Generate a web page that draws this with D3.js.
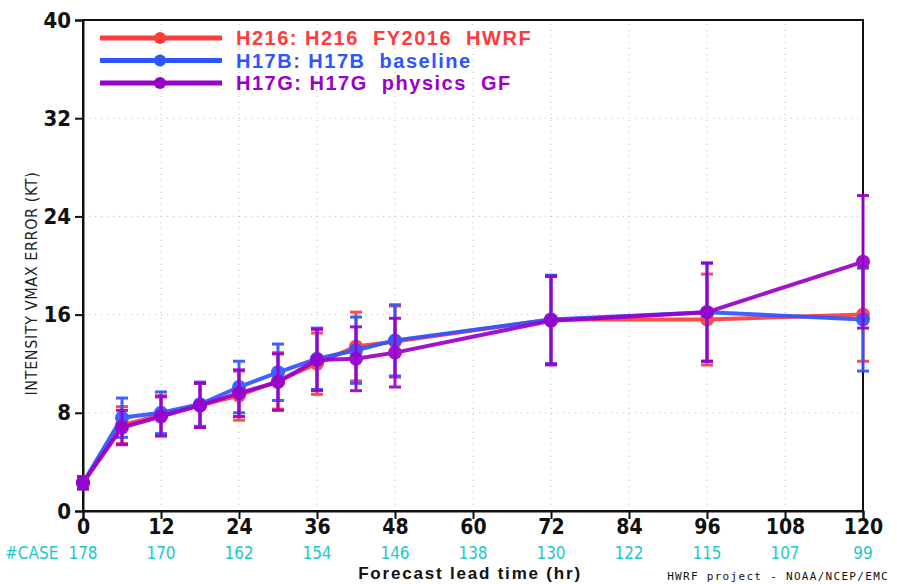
<!DOCTYPE html>
<html>
<head>
<meta charset="utf-8">
<script src="https://cdn.jsdelivr.net/npm/d3@7"></script>
<style>
  body { margin: 0; background: #fff; }
  text { font-family: "Liberation Sans Narrow", "DejaVu Sans Condensed", "Liberation Sans", sans-serif; }
</style>
</head>
<body>
<svg id="drawing_region"></svg>
<script>
// forecast hours and values
const hours = [0, 6, 12, 18, 24, 30, 36, 42, 48, 72, 96, 120];

const h216Mean = [2.3, 7.0, 7.8, 8.6, 9.4, 10.6, 12.0, 13.4, 13.8, 15.6, 15.6, 16.0];
const h216Err  = [0.5, 1.5, 1.6, 1.8, 2.0, 2.3, 2.5, 2.8, 2.9, 3.6, 3.7, 3.8];

const h17bMean = [2.3, 7.6, 8.0, 8.7, 10.1, 11.3, 12.4, 13.1, 13.9, 15.6, 16.2, 15.6];
const h17bErr  = [0.5, 1.6, 1.7, 1.8, 2.1, 2.3, 2.5, 2.7, 2.9, 3.6, 4.0, 4.2];

const h17gMean = [2.3, 6.8, 7.7, 8.6, 9.6, 10.5, 12.3, 12.4, 12.9, 15.5, 16.2, 20.3];
const h17gErr  = [0.5, 1.4, 1.6, 1.8, 1.9, 2.3, 2.5, 2.6, 2.8, 3.6, 4.0, 5.4];

const seriesNames = ["H216: H216  FY2016  HWRF", "H17B: H17B  baseline", "H17G: H17G  physics  GF"];
const seriesColors = ["#ff3b3b", "#2f55ff", "#9a00cc"];

const xTicks = [0, 12, 24, 36, 48, 60, 72, 84, 96, 108, 120];
const caseCounts = [178, 170, 162, 154, 146, 138, 130, 122, 115, 107, 99];
const yTicks = [0, 8, 16, 24, 32, 40];

const width = 897, height = 584;
const margin = {top: 20, right: 34, bottom: 73, left: 83};

const svg = d3.select('#drawing_region')
    .attr('width', width)
    .attr('height', height);

const x = d3.scaleLinear().domain([0, 120]).range([margin.left, width - margin.right]);
const y = d3.scaleLinear().domain([0, 40]).range([height - margin.bottom, margin.top]);

// dotted grid
svg.append('g')
    .selectAll('line')
    .data(xTicks.slice(1, -1))
    .enter().append('line')
    .attr('x1', d => x(d)).attr('x2', d => x(d))
    .attr('y1', y(0)).attr('y2', y(40))
    .attr('stroke', '#bbb').attr('stroke-width', 1).attr('stroke-dasharray', '1,5');
svg.append('g')
    .selectAll('line')
    .data(yTicks.slice(1, -1))
    .enter().append('line')
    .attr('x1', x(0)).attr('x2', x(120))
    .attr('y1', d => y(d)).attr('y2', d => y(d))
    .attr('stroke', '#bbb').attr('stroke-width', 1).attr('stroke-dasharray', '1,5');

// axes
const yAxis = svg.append('g')
    .attr('transform', `translate(${x(0)},0)`)
    .call(d3.axisLeft(y).tickValues(yTicks).tickSize(8).tickPadding(4));
const xAxis = svg.append('g')
    .attr('transform', `translate(0,${y(0)})`)
    .call(d3.axisBottom(x).tickValues(xTicks).tickSize(8).tickPadding(0));
[yAxis, xAxis].forEach(a => {
    a.select('.domain').attr('stroke', '#111').attr('stroke-width', 2);
    a.selectAll('.tick line').attr('stroke', '#111').attr('stroke-width', 2);
    a.selectAll('.tick text')
        .attr('fill', '#111')
        .style('font-size', '22px')
        .style('font-weight', 'bold');
});
xAxis.selectAll('.tick text').style('font-size', '21px');

// frame
svg.append('rect')
    .attr('x', x(0)).attr('y', y(40))
    .attr('width', x(120) - x(0)).attr('height', y(0) - y(40))
    .attr('fill', 'none').attr('stroke', '#111').attr('stroke-width', 2);

// series
const series = [
    {mean: h216Mean, err: h216Err},
    {mean: h17bMean, err: h17bErr},
    {mean: h17gMean, err: h17gErr}
];

const line = d3.line()
    .x(d => x(d.h))
    .y(d => y(d.v));

series.forEach((s, i) => {
    const pts = hours.map((h, j) => ({h: h, v: s.mean[j], e: s.err[j]}));
    const col = seriesColors[i];
    const g = svg.append('g').attr('opacity', 0.92);

    g.append('path')
        .datum(pts)
        .attr('d', line)
        .attr('fill', 'none')
        .attr('stroke', col)
        .attr('stroke-width', 4);

    const eb = g.selectAll('.eb').data(pts).enter().append('g');
    eb.append('line')
        .attr('x1', d => x(d.h)).attr('x2', d => x(d.h))
        .attr('y1', d => y(d.v - d.e)).attr('y2', d => y(d.v + d.e))
        .attr('stroke', col).attr('stroke-width', 3);
    eb.append('line')
        .attr('x1', d => x(d.h) - 6).attr('x2', d => x(d.h) + 6)
        .attr('y1', d => y(d.v + d.e)).attr('y2', d => y(d.v + d.e))
        .attr('stroke', col).attr('stroke-width', 3);
    eb.append('line')
        .attr('x1', d => x(d.h) - 6).attr('x2', d => x(d.h) + 6)
        .attr('y1', d => y(d.v - d.e)).attr('y2', d => y(d.v - d.e))
        .attr('stroke', col).attr('stroke-width', 3);

    g.selectAll('circle')
        .data(pts)
        .enter().append('circle')
        .attr('cx', d => x(d.h))
        .attr('cy', d => y(d.v))
        .attr('r', 7)
        .attr('fill', col);
});

// legend
const legend = svg.append('g');
seriesNames.forEach((name, i) => {
    const ly = 38 + i * 22.5;
    legend.append('line')
        .attr('x1', 100).attr('x2', 222)
        .attr('y1', ly).attr('y2', ly)
        .attr('stroke', seriesColors[i]).attr('stroke-width', 5);
    legend.append('circle')
        .attr('cx', 160).attr('cy', ly).attr('r', 6)
        .attr('fill', seriesColors[i]);
    legend.append('text')
        .attr('x', 236).attr('y', ly + 7)
        .attr('fill', seriesColors[i])
        .style('font-family', '"Liberation Sans", sans-serif')
        .style('font-size', '20px')
        .style('font-weight', 'bold')
        .style('letter-spacing', '1.5px')
        .style('white-space', 'pre')
        .text(name);
});

// y title
svg.append('text')
    .attr('transform', `translate(37,${(y(0) + y(40)) / 2 + 18}) rotate(-90)`)
    .attr('text-anchor', 'middle')
    .attr('fill', '#222')
    .style('font-size', '16px')
    .style('letter-spacing', '0.6px')
    .text('INTENSITY VMAX ERROR (KT)');

// case counts
svg.append('text')
    .attr('x', 5).attr('y', 559)
    .attr('fill', '#1ec8c8')
    .style('font-size', '17px')
    .text('#CASE');
svg.append('g')
    .selectAll('text')
    .data(caseCounts)
    .enter().append('text')
    .attr('x', (d, i) => x(xTicks[i]))
    .attr('y', 559)
    .attr('text-anchor', 'middle')
    .attr('fill', '#1ec8c8')
    .style('font-size', '17px')
    .text(d => d);

// x title
svg.append('text')
    .attr('x', 470).attr('y', 579)
    .attr('text-anchor', 'middle')
    .attr('fill', '#111')
    .style('font-family', '"Liberation Sans", sans-serif')
    .style('font-size', '17px')
    .style('font-weight', 'bold')
    .style('letter-spacing', '1.8px')
    .text('Forecast lead time (hr)');

// footer
svg.append('text')
    .attr('x', 889).attr('y', 580)
    .attr('text-anchor', 'end')
    .attr('fill', '#111')
    .style('font-family', '"DejaVu Sans Mono", monospace')
    .style('font-size', '11px')
    .style('letter-spacing', '1.3px')
    .text('HWRF project - NOAA/NCEP/EMC');
</script>
</body>
</html>
